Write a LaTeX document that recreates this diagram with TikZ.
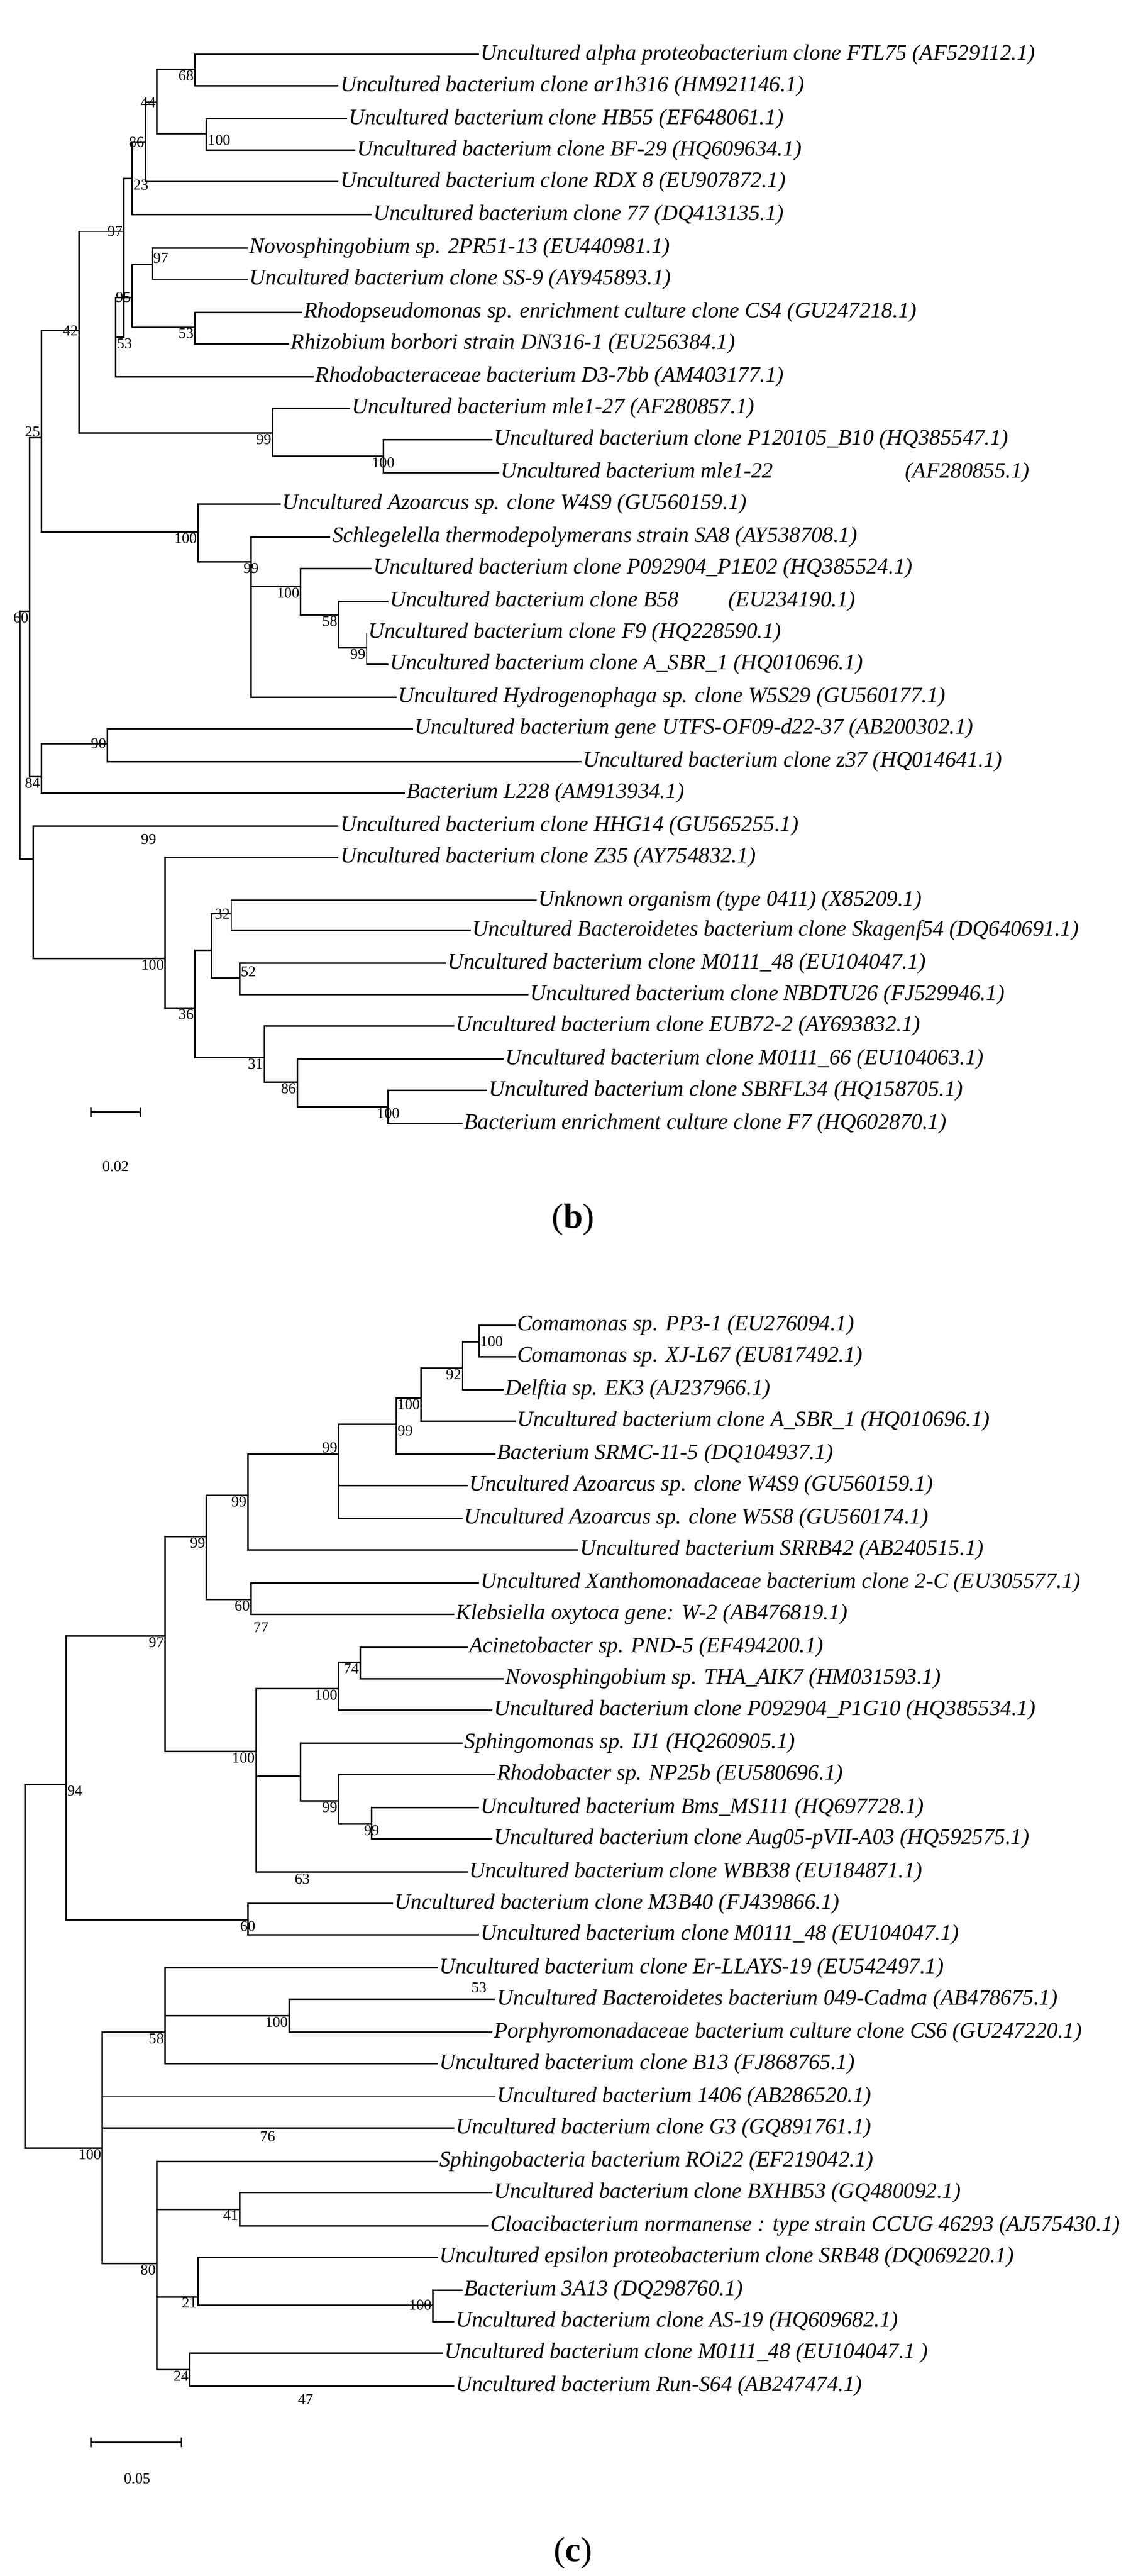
\documentclass[tikz,border=0pt]{standalone}
\usepackage{fontspec}
\setmainfont{Liberation Serif}
\tikzset{
leaf/.style={anchor=west, inner sep=3pt, font=\fontsize{38}{44}\selectfont\itshape},
boot/.style={font=\fontsize{26}{30}\selectfont, inner sep=2pt},
branch/.style={line width=2.6pt}
}
\newcommand{\clade}[2]{\foreach \c in {#2}{\draw[branch] (#1) |- (\c);}}
\newcommand{\bs}[4]{\coordinate[label={[boot]#4:#3}] (#1) at #2;}
\begin{document}
\begin{tikzpicture}[x=1mm, y=-1mm]
\useasboundingbox (0,0) rectangle (695,1559);
% tree (b): leaves
\foreach \n/\x/\y/\t in {
b1/290/33/{Uncultured alpha proteobacterium clone FTL75 (AF529112.1)},
b2/205/52/{Uncultured bacterium clone ar1h316 (HM921146.1)},
b3/210/72/{Uncultured bacterium clone HB55 (EF648061.1)},
b4/215/91/{Uncultured bacterium clone BF-29 (HQ609634.1)},
b5/205/110/{Uncultured bacterium clone RDX 8 (EU907872.1)},
b6/225/130/{Uncultured bacterium clone 77 (DQ413135.1)},
b7/150/150/{Novosphingobium sp. 2PR51-13 (EU440981.1)},
b8/150/169/{Uncultured bacterium clone SS-9 (AY945893.1)},
b9/183/189/{Rhodopseudomonas sp. enrichment culture clone CS4 (GU247218.1)},
b10/175/208/{Rhizobium borbori strain DN316-1 (EU256384.1)},
b11/190/228/{Rhodobacteraceae bacterium D3-7bb (AM403177.1)},
b12/212/247/{Uncultured bacterium mle1-27 (AF280857.1)},
b13/298/266/{Uncultured bacterium clone P120105\_B10 (HQ385547.1)},
b14/302/286/{Uncultured bacterium mle1-22\hspace{8cm}(AF280855.1)},
b15/170/305/{Uncultured Azoarcus sp. clone W4S9 (GU560159.1)},
b16/200/325/{Schlegelella thermodepolymerans strain SA8 (AY538708.1)},
b17/225/344/{Uncultured bacterium clone P092904\_P1E02 (HQ385524.1)},
b18/235/364/{Uncultured bacterium clone B58\hspace{3cm}(EU234190.1)},
b19/222/383/{Uncultured bacterium clone F9 (HQ228590.1)},
b20/235/402/{Uncultured bacterium clone A\_SBR\_1 (HQ010696.1)},
b21/240/422/{Uncultured Hydrogenophaga sp. clone W5S29 (GU560177.1)},
b22/250/441/{Uncultured bacterium gene UTFS-OF09-d22-37 (AB200302.1)},
b23/352/461/{Uncultured bacterium clone z37 (HQ014641.1)},
b24/245/480/{Bacterium L228 (AM913934.1)},
b25/205/500/{Uncultured bacterium clone HHG14 (GU565255.1)},
b26/205/519/{Uncultured bacterium clone Z35 (AY754832.1)},
b27/325/545/{Unknown organism (type 0411) (X85209.1)},
b28/285/563/{Uncultured Bacteroidetes bacterium clone Skagenf54 (DQ640691.1)},
b29/270/583/{Uncultured bacterium clone M0111\_48 (EU104047.1)},
b30/320/602/{Uncultured bacterium clone NBDTU26 (FJ529946.1)},
b31/275/621/{Uncultured bacterium clone EUB72-2 (AY693832.1)},
b32/305/641/{Uncultured bacterium clone M0111\_66 (EU104063.1)},
b33/295/660/{Uncultured bacterium clone SBRFL34 (HQ158705.1)},
b34/280/680/{Bacterium enrichment culture clone F7 (HQ602870.1)}}
  \node[leaf] (\n) at (\x,\y) {\t};
% tree (b): inner nodes
\bs{n68}{(118,42)}{68}{below left}
\bs{nHB}{(125,81)}{100}{below right}
\bs{n44}{(95,62)}{44}{left}
\bs{n86}{(88,86)}{86}{left}
\bs{n23}{(80,108)}{23}{below right}
\bs{nNS}{(92,160)}{97}{above right}
\bs{nRR}{(118,198)}{53}{below left}
\bs{n95}{(80,180)}{95}{left}
\bs{n53}{(70,204)}{53}{below right}
\bs{n97}{(75,140)}{97}{left}
\bs{nML}{(232,276)}{100}{below}
\bs{n99m}{(165,262)}{99}{below left}
\bs{n42}{(48,200)}{42}{left}
\bs{nF9}{(222,392)}{99}{below left}
\bs{n58}{(205,372)}{58}{below left}
\bs{nP1}{(182,355)}{100}{below left}
\bs{nSc}{(152,340)}{99}{below}
\bs{nW4}{(120,322)}{100}{below left}
\bs{n25}{(25,265)}{25}{above left}
\bs{n90}{(65,450)}{90}{left}
\bs{n84}{(25,470)}{84}{below left}
\bs{n60}{(18,370)}{60}{below left}
\bs{n32}{(140,553)}{32}{left}
\bs{n52}{(145,592)}{52}{above right}
\bs{nFB}{(128,575)}{}{left}
\bs{nF7}{(235,670)}{100}{below}
\bs{n86s}{(180,655)}{86}{below left}
\bs{n31}{(160,640)}{31}{below left}
\bs{n36}{(118,610)}{36}{below left}
\bs{nZ}{(100,580)}{100}{below left}
\bs{nHH}{(20,520)}{}{}
\bs{rootb}{(12,440)}{}{left}
\clade{n68}{b1,b2}
\clade{nHB}{b3,b4}
\clade{n44}{n68,nHB}
\clade{n86}{n44,b5}
\clade{n23}{n86,b6}
\clade{nNS}{b7,b8}
\clade{nRR}{b9,b10}
\clade{n95}{nNS,nRR}
\clade{n53}{n95,b11}
\clade{n97}{n23,n53}
\clade{nML}{b13,b14}
\clade{n99m}{b12,nML}
\clade{n42}{n97,n99m}
\clade{nF9}{b19,b20}
\clade{n58}{b18,nF9}
\clade{nP1}{b17,n58}
\clade{nSc}{b16,nP1,b21}
\clade{nW4}{b15,nSc}
\clade{n25}{n42,nW4}
\clade{n90}{b22,b23}
\clade{n84}{n90,b24}
\clade{n60}{n25,n84}
\clade{n32}{b27,b28}
\clade{n52}{b29,b30}
\clade{nFB}{n32,n52}
\clade{nF7}{b33,b34}
\clade{n86s}{b32,nF7}
\clade{n31}{b31,n86s}
\clade{n36}{nFB,n31}
\clade{nZ}{b26,n36}
\clade{nHH}{b25,nZ}
\clade{rootb}{n60,nHH}
\node[boot] (l99h) at (90,508) {99};
% scale bar (b)
\coordinate (sb1) at (55,673); \coordinate (sb2) at (85,673);
\draw[branch] (sb1) -- (sb2);
\draw[branch] (sb1) ++(0,-3) -- ++(0,6);
\draw[branch] (sb2) ++(0,-3) -- ++(0,6);
\node[boot] (sbl) at (70,706) {0.02};
\node[font=\fontsize{60}{70}\selectfont] (capb) at (347,738) {(\textbf{b})};
% tree (c): leaves
\foreach \n/\x/\y/\t in {
c1/312/802/{Comamonas sp. PP3-1 (EU276094.1)},
c2/312/821/{Comamonas sp. XJ-L67 (EU817492.1)},
c3/305/841/{Delftia sp. EK3 (AJ237966.1)},
c4/312/860/{Uncultured bacterium clone A\_SBR\_1 (HQ010696.1)},
c5/300/880/{Bacterium SRMC-11-5 (DQ104937.1)},
c6/283/899/{Uncultured Azoarcus sp. clone W4S9 (GU560159.1)},
c7/280/919/{Uncultured Azoarcus sp. clone W5S8 (GU560174.1)},
c8/350/938/{Uncultured bacterium SRRB42 (AB240515.1)},
c9/290/958/{Uncultured Xanthomonadaceae bacterium clone 2-C (EU305577.1)},
c10/275/977/{Klebsiella oxytoca gene: W-2 (AB476819.1)},
c11/283/997/{Acinetobacter sp. PND-5 (EF494200.1)},
c12/305/1016/{Novosphingobium sp. THA\_AIK7 (HM031593.1)},
c13/298/1035/{Uncultured bacterium clone P092904\_P1G10 (HQ385534.1)},
c14/280/1055/{Sphingomonas sp. IJ1 (HQ260905.1)},
c15/300/1074/{Rhodobacter sp. NP25b (EU580696.1)},
c16/290/1094/{Uncultured bacterium Bms\_MS111 (HQ697728.1)},
c17/298/1113/{Uncultured bacterium clone Aug05-pVII-A03 (HQ592575.1)},
c18/283/1133/{Uncultured bacterium clone WBB38 (EU184871.1)},
c19/238/1152/{Uncultured bacterium clone M3B40 (FJ439866.1)},
c20/290/1171/{Uncultured bacterium clone M0111\_48 (EU104047.1)},
c21/265/1191/{Uncultured bacterium clone Er-LLAYS-19 (EU542497.1)},
c22/300/1210/{Uncultured Bacteroidetes bacterium 049-Cadma (AB478675.1)},
c23/298/1230/{Porphyromonadaceae bacterium culture clone CS6 (GU247220.1)},
c24/265/1249/{Uncultured bacterium clone B13 (FJ868765.1)},
c25/300/1269/{Uncultured bacterium 1406 (AB286520.1)},
c26/275/1288/{Uncultured bacterium clone G3 (GQ891761.1)},
c27/265/1308/{Sphingobacteria bacterium ROi22 (EF219042.1)},
c28/298/1327/{Uncultured bacterium clone BXHB53 (GQ480092.1)},
c29/296/1347/{Cloacibacterium normanense : type strain CCUG 46293 (AJ575430.1)},
c30/265/1366/{Uncultured epsilon proteobacterium clone SRB48 (DQ069220.1)},
c31/280/1386/{Bacterium 3A13 (DQ298760.1)},
c32/275/1405/{Uncultured bacterium clone AS-19 (HQ609682.1)},
c33/268/1424/{Uncultured bacterium clone M0111\_48 (EU104047.1 )},
c34/275/1444/{Uncultured bacterium Run-S64 (AB247474.1)}}
  \node[leaf] (\n) at (\x,\y) {\t};
% tree (c): inner nodes
\bs{m100a}{(290,812)}{100}{right}
\bs{m92}{(280,828)}{92}{below left}
\bs{m100b}{(255,846)}{100}{below left}
\bs{m99e}{(240,862)}{99}{below right}
\bs{m99a}{(205,880)}{99}{above left}
\bs{m99}{(150,905)}{99}{below left}
\bs{m77}{(152,968)}{60}{below left}
\bs{m99t}{(125,930)}{99}{below left}
\bs{m74}{(218,1006)}{74}{below left}
\bs{m100d}{(205,1022)}{100}{below left}
\bs{m99f}{(225,1104)}{99}{below}
\bs{m99g}{(205,1090)}{99}{below left}
\bs{m100e}{(182,1075)}{}{left}
\bs{m100x}{(155,1060)}{100}{below left}
\bs{m97}{(100,990)}{97}{below left}
\bs{m60b}{(150,1162)}{60}{below}
\bs{m94}{(40,1080)}{94}{below right}
\bs{m53}{(175,1220)}{100}{below left}
\bs{m58}{(100,1230)}{58}{below left}
\bs{m100i}{(262,1395)}{100}{left}
\bs{m41}{(145,1337)}{41}{below left}
\bs{m21}{(120,1390)}{21}{below left}
\bs{m24}{(115,1434)}{24}{below left}
\bs{m80}{(95,1370)}{80}{below left}
\bs{m100h}{(62,1300)}{100}{below left}
\bs{rootc}{(15,1190)}{}{left}
\clade{m100a}{c1,c2}
\clade{m92}{m100a,c3}
\clade{m100b}{m92,c4}
\clade{m99e}{m100b,c5}
\clade{m99a}{m99e,c6,c7}
\clade{m99}{m99a,c8}
\clade{m77}{c9,c10}
\clade{m99t}{m99,m77}
\clade{m74}{c11,c12}
\clade{m100d}{m74,c13}
\clade{m99f}{c16,c17}
\clade{m99g}{c15,m99f}
\clade{m100e}{c14,m99g}
\clade{m100x}{m100d,m100e,c18}
\clade{m97}{m99t,m100x}
\clade{m60b}{c19,c20}
\clade{m94}{m97,m60b}
\clade{m53}{c22,c23}
\clade{m58}{c21,m53,c24}
\clade{m100i}{c31,c32}
\clade{m41}{c28,c29}
\clade{m21}{c30,m100i}
\clade{m24}{c33,c34}
\clade{m80}{c27,m41,m21,m24}
\clade{m100h}{m58,c25,c26,m80}
\clade{rootc}{m94,m100h}
\node[boot] (l53) at (290,1203) {53};
\node[boot] (l77) at (158,985) {77};
\node[boot] (l63) at (183,1137) {63};
\node[boot] (l76) at (162,1293) {76};
\node[boot] (l47) at (185,1452) {47};
% scale bar (c)
\coordinate (sc1) at (55,1478); \coordinate (sc2) at (110,1478);
\draw[branch] (sc1) -- (sc2);
\draw[branch] (sc1) ++(0,-3) -- ++(0,6);
\draw[branch] (sc2) ++(0,-3) -- ++(0,6);
\node[boot] (scl) at (83,1500) {0.05};
\node[font=\fontsize{60}{70}\selectfont] (capc) at (347,1545) {(\textbf{c})};
\end{tikzpicture}
\end{document}
